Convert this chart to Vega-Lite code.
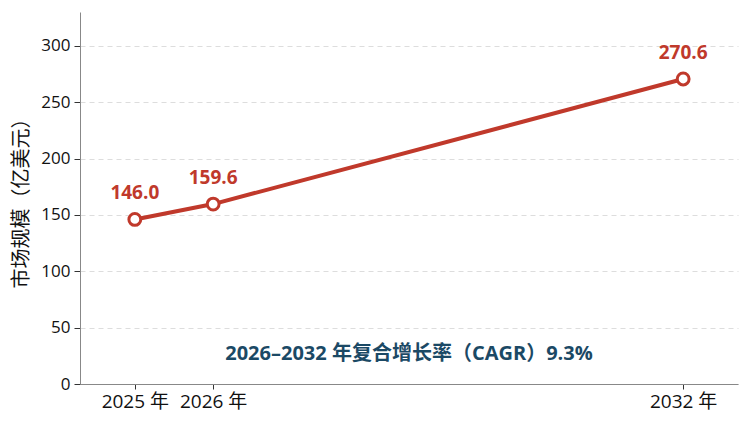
{
  "$schema": "https://vega.github.io/schema/vega-lite/v6.json",
  "autosize": {"type": "none"},
  "width": 658,
  "height": 372,
  "padding": {"left": 80, "top": 12, "right": 12, "bottom": 45},
  "background": "white",
  "config": {
    "view": {"stroke": null},
    "font": "Open Sans, Noto Sans CJK SC"
  },
  "datasets": {
    "market": [
      {"year": 2025, "value": 146.0},
      {"year": 2026, "value": 159.6},
      {"year": 2032, "value": 270.6}
    ],
    "note": [
      {"year": 2028.5, "value": 27, "text": "2026–2032 年复合增长率（CAGR）9.3%"}
    ]
  },
  "encoding": {
    "x": {
      "field": "year",
      "type": "quantitative",
      "scale": {"domain": [2024.3, 2032.7], "nice": false, "zero": false},
      "axis": {
        "values": [2025, 2026, 2032],
        "labelExpr": "datum.value + ' 年'",
        "title": null,
        "grid": false,
        "domainColor": "#888888",
        "tickColor": "#333333",
        "tickSize": 5,
        "labelFontSize": 19,
        "labelColor": "#111111",
        "labelPadding": 3,
        "labelFlush": false
      }
    },
    "y": {
      "field": "value",
      "type": "quantitative",
      "scale": {"domain": [0, 330], "nice": false},
      "axis": {
        "values": [0, 50, 100, 150, 200, 250, 300],
        "title": "市场规模（亿美元）",
        "titleFontSize": 20,
        "titleFontWeight": "normal",
        "titleColor": "#111111",
        "titlePadding": 9,
        "grid": true,
        "gridDash": [5, 4],
        "gridColor": "#dddddd",
        "domainColor": "#888888",
        "tickColor": "#333333",
        "tickSize": 6,
        "labelFontSize": 17,
        "labelColor": "#111111",
        "labelPadding": 4
      }
    }
  },
  "layer": [
    {
      "data": {"name": "market"},
      "mark": {"type": "line", "color": "#c0392b", "strokeWidth": 4}
    },
    {
      "data": {"name": "market"},
      "mark": {"type": "point", "shape": "circle", "filled": true, "fill": "white", "stroke": "#c0392b", "strokeWidth": 3, "size": 140, "opacity": 1}
    },
    {
      "data": {"name": "market"},
      "mark": {"type": "text", "dy": -26, "fontSize": 19, "fontWeight": "bold", "color": "#c0392b"},
      "encoding": {"text": {"field": "value", "type": "quantitative", "format": ".1f"}}
    },
    {
      "data": {"name": "note"},
      "mark": {"type": "text", "fontSize": 20, "fontWeight": "bold", "color": "#1b4965"},
      "encoding": {"text": {"field": "text"}}
    }
  ]
}
